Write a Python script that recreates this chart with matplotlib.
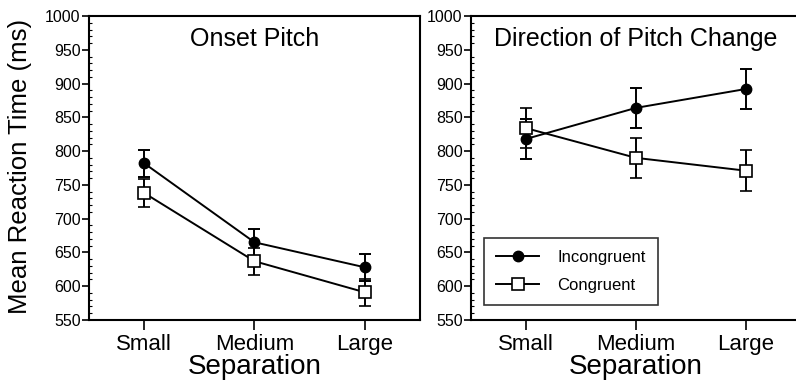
import matplotlib
matplotlib.use("Agg")
import matplotlib.pyplot as plt
from matplotlib.ticker import MultipleLocator
from matplotlib.lines import Line2D

plt.rcParams['font.family'] = ['Liberation Sans', 'DejaVu Sans']

categories = ["Small", "Medium", "Large"]
yticks = [550, 600, 650, 700, 750, 800, 850, 900, 950, 1000]

onset_incong = [782, 665, 628]
onset_incong_err = [20, 20, 20]
onset_cong = [738, 637, 591]
onset_cong_err = [21, 20, 20]

dir_incong = [818, 864, 892]
dir_incong_err = [30, 30, 30]
dir_cong = [834, 790, 771]
dir_cong_err = [30, 30, 30]

titles = ["Onset Pitch", "Direction of Pitch Change"]
series_names = ["Incongruent", "Congruent"]

fig = plt.figure(figsize=(7.96, 3.82), dpi=100)
W, H = 796, 382
ax1 = fig.add_axes([89 / W, 1 - 320 / H, 331 / W, 304 / H])
ax2 = fig.add_axes([471 / W, 1 - 320 / H, 330 / W, 304 / H])

x = list(range(len(categories)))

inc_style = dict(color='black', marker='o', markersize=7.5, markerfacecolor='black', lw=1.4)
con_style = dict(color='black', marker='s', markersize=8, markerfacecolor='white',
                 markeredgewidth=1.2, lw=1.4)

def draw(ax, inc, inc_e, con, con_e, title, ylabel):
    ax.errorbar(x, inc, yerr=inc_e, capsize=4, capthick=1.4, elinewidth=1.4,
                zorder=3, **inc_style)
    ax.errorbar(x, con, yerr=con_e, capsize=4, capthick=1.4, elinewidth=1.4,
                zorder=4, **con_style)
    ax.set_xlim(-0.5, 2.5)
    ax.set_ylim(550, 1000)
    ax.set_yticks(yticks)
    ax.set_yticklabels([str(v) for v in yticks], fontsize=11.5)
    ax.yaxis.set_minor_locator(MultipleLocator(10))
    ax.set_xticks(x)
    ax.set_xticklabels(categories, fontsize=16)
    ax.tick_params(axis='y', which='major', direction='out', length=5, width=1.2, pad=1)
    ax.tick_params(axis='y', which='minor', direction='in', length=2.5, width=0.8)
    ax.tick_params(axis='x', which='major', direction='out', length=7, width=1.2, pad=3)
    for s in ax.spines.values():
        s.set_linewidth(1.5)
    ax.set_xlabel("Separation", fontsize=20, labelpad=-1)
    if ylabel:
        ax.set_ylabel("Mean Reaction Time (ms)", fontsize=18.5)
        ax.yaxis.set_label_coords(-0.172, 0.505)
    ax.text(0.5, 0.965, title, transform=ax.transAxes, ha='center', va='top', fontsize=18)

draw(ax1, onset_incong, onset_incong_err, onset_cong, onset_cong_err, titles[0], True)
draw(ax2, dir_incong, dir_incong_err, dir_cong, dir_cong_err, titles[1], False)

handles = [Line2D([], [], **inc_style), Line2D([], [], **con_style)]
leg = ax2.legend(handles, series_names, loc='lower left', bbox_to_anchor=(0.04, 0.05),
                 fontsize=12, frameon=True, fancybox=False, edgecolor='black',
                 handlelength=2.6, borderpad=0.7, labelspacing=0.8, handletextpad=1.1,
                 borderaxespad=0)
leg.get_frame().set_linewidth(1.2)

fig.savefig("out.png", dpi=100)
